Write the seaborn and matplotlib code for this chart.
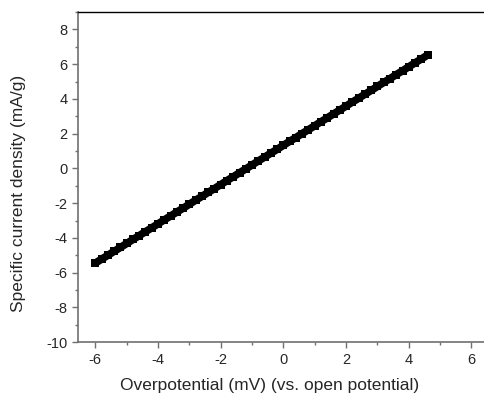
"""Overpotential vs specific current density (linear polarization)."""
import numpy as np
import pandas as pd
import matplotlib
matplotlib.use("Agg")
import matplotlib.pyplot as plt
from matplotlib.ticker import MultipleLocator
import seaborn as sns

# data
overpotential = [-6.0, -5.8, -5.6, -5.4, -5.2, -5.0, -4.8, -4.6, -4.4, -4.2,
                 -4.0, -3.8, -3.6, -3.4, -3.2, -3.0, -2.8, -2.6, -2.4, -2.2,
                 -2.0, -1.8, -1.6, -1.4, -1.2, -1.0, -0.8, -0.6, -0.4, -0.2,
                 0.0, 0.2, 0.4, 0.6, 0.8, 1.0, 1.2, 1.4, 1.6, 1.8,
                 2.0, 2.2, 2.4, 2.6, 2.8, 3.0, 3.2, 3.4, 3.6, 3.8,
                 4.0, 4.2, 4.4, 4.6]
current_density = [-5.45, -5.22, -5.00, -4.77, -4.55, -4.32, -4.09, -3.87, -3.64, -3.42,
                   -3.19, -2.96, -2.74, -2.51, -2.29, -2.06, -1.83, -1.61, -1.38, -1.16,
                   -0.93, -0.70, -0.48, -0.25, -0.03, 0.20, 0.43, 0.65, 0.88, 1.10,
                   1.33, 1.56, 1.78, 2.01, 2.23, 2.46, 2.69, 2.91, 3.14, 3.36,
                   3.59, 3.82, 4.04, 4.27, 4.49, 4.72, 4.95, 5.17, 5.40, 5.62,
                   5.85, 6.08, 6.30, 6.53]
x_ticks = [-6, -4, -2, 0, 2, 4, 6]
y_ticks = [-10, -8, -6, -4, -2, 0, 2, 4, 6, 8]

sns.set_style("ticks")
plt.rcParams["font.family"] = ["Liberation Sans", "DejaVu Sans"]
plt.rcParams["axes.unicode_minus"] = False

df = pd.DataFrame({"eta": overpotential, "j": current_density})

fig = plt.figure(figsize=(4.85, 4.03), dpi=100)
ax = fig.add_axes([0.161, 0.151, 0.837, 0.819])

# thick line + square markers gives the dense "stacked squares" look
sns.lineplot(data=df, x="eta", y="j", color="black", linewidth=5.5,
             marker="s", markersize=6, markeredgewidth=0, ax=ax, legend=False)

ax.set_xlim(-6.55, 6.4)
ax.set_ylim(-10, 9)
ax.set_xticks(x_ticks)
ax.set_yticks(y_ticks)
ax.xaxis.set_minor_locator(MultipleLocator(1))
ax.yaxis.set_minor_locator(MultipleLocator(1))

grey = "#707070"
ax.tick_params(which="major", length=4.5, width=1.0, color=grey, labelsize=10.5, pad=3)
ax.tick_params(which="minor", length=2.5, width=1.0, color=grey)
ax.spines["right"].set_visible(False)
ax.spines["left"].set_color(grey)
ax.spines["bottom"].set_color(grey)
ax.spines["left"].set_linewidth(1.2)
ax.spines["bottom"].set_linewidth(1.2)
ax.spines["top"].set_color("black")
ax.spines["top"].set_linewidth(1.0)

ax.set_xlabel("Overpotential (mV) (vs. open potential)", fontsize=12.5)
ax.set_ylabel("Specific current density (mA/g)", fontsize=12.5)
ax.xaxis.set_label_coords(0.472, -0.13, transform=ax.transAxes)
ax.yaxis.set_label_coords(-0.148, 0.45, transform=ax.transAxes)
ax.xaxis.label.set_va("center")
ax.yaxis.label.set_va("center")

fig.savefig("out.png", dpi=100)
plt.close(fig)
